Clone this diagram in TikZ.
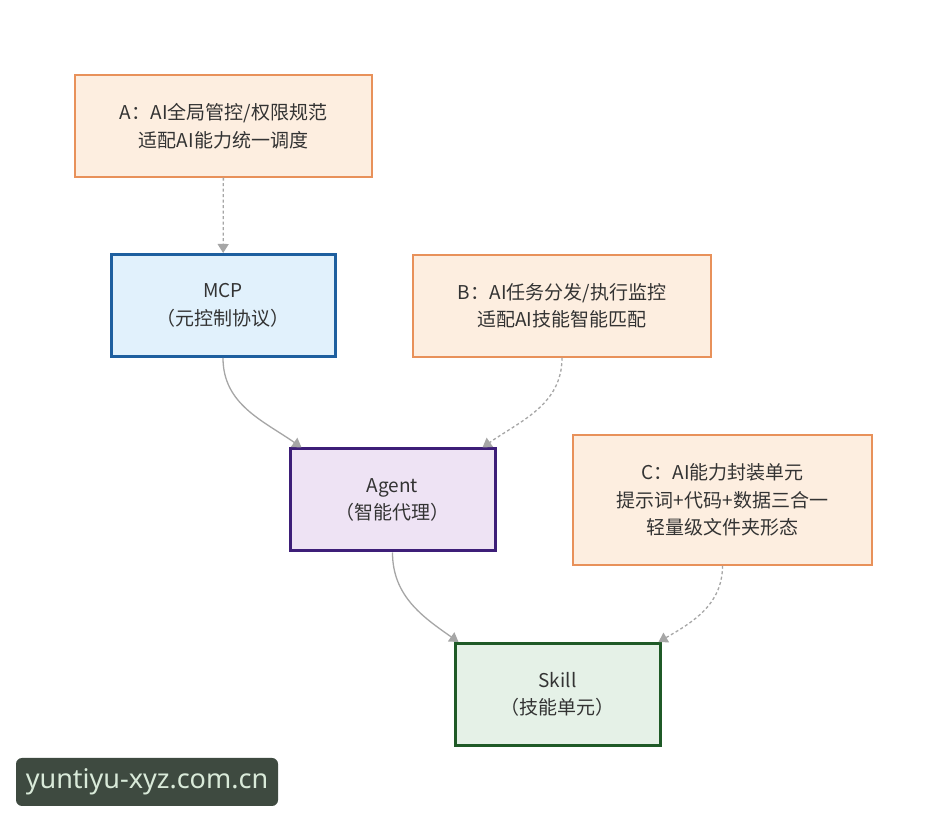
\documentclass[tikz,border=0pt]{standalone}
\usepackage{fontspec}
\setmainfont{Noto Sans CJK SC}
\newfontfamily\wmfont{Noto Sans}
\usetikzlibrary{arrows.meta}
\definecolor{notefill}{HTML}{FDEEE0}
\definecolor{noteline}{HTML}{E8915A}
\definecolor{mcpfill}{HTML}{E1F1FC}
\definecolor{mcpline}{HTML}{1E5F9F}
\definecolor{agentfill}{HTML}{EEE3F4}
\definecolor{agentline}{HTML}{3D1E78}
\definecolor{skillfill}{HTML}{E5F1E7}
\definecolor{skillline}{HTML}{1F5A27}
\definecolor{linkgray}{HTML}{A6A6A6}
\definecolor{wmback}{HTML}{3E4A40}
\definecolor{wmtext}{HTML}{D9EAD9}
\tikzset{
  box/.style={draw,rectangle,align=center,inner sep=0pt,text=black!80,
    font=\fontsize{19}{27.5}\selectfont},
  notebox/.style={box,draw=noteline,fill=notefill,line width=1.5pt},
  corebox/.style={box,line width=3pt,minimum width=205pt,minimum height=102pt},
  link/.style={draw=linkgray,line width=1.3pt,
    -{Triangle[length=9pt,width=11pt,fill=linkgray]}},
  hint/.style={link,dash pattern=on 3pt off 2.5pt}
}
\begin{document}
\begin{tikzpicture}[x=1pt,y=1pt]

      \fill[white] (0,0) rectangle (947,821);
      \useasboundingbox (0,0) rectangle (947,821);

      \node[notebox,minimum width=297pt,minimum height=102pt] (A) at (223.5,695) {A：AI全局管控/权限规范\\适配AI能力统一调度};
      \node[corebox,draw=mcpline,fill=mcpfill,minimum width=224pt] (mcp) at (223,515.5) {MCP\\（元控制协议）};
      \node[notebox,minimum width=298pt,minimum height=102pt] (B) at (562,515) {B：AI任务分发/执行监控\\适配AI技能智能匹配};
      \node[corebox,draw=agentline,fill=agentfill] (agent) at (392.5,321) {Agent\\（智能代理）};
      \node[notebox,minimum width=299pt,minimum height=130pt] (C) at (722.5,321) {C：AI能力封装单元\\提示词+代码+数据三合一\\轻量级文件夹形态};
      \node[corebox,draw=skillline,fill=skillfill] (skill) at (557.5,126.5) {Skill\\（技能单元）};

      \draw[hint] (A) -- (mcp);
      \draw[link] (mcp.south) to[out=-90,in=145] ([xshift=13pt]agent.north west);
      \draw[hint] (B.south) to[out=-90,in=35] ([xshift=-14pt]agent.north east);
      \draw[link] (agent.south) to[out=-90,in=145] ([xshift=5pt]skill.north west);
      \draw[hint] (C.south) to[out=-90,in=30] ([xshift=-3pt]skill.north east);

      \node[fill=wmback,rounded corners=6pt,minimum width=262pt,minimum height=48pt,
        text=wmtext,font=\wmfont\fontsize{27}{27}\selectfont] (mark) at (147,39) {yuntiyu-xyz.com.cn};

    \end{tikzpicture}
\end{document}
